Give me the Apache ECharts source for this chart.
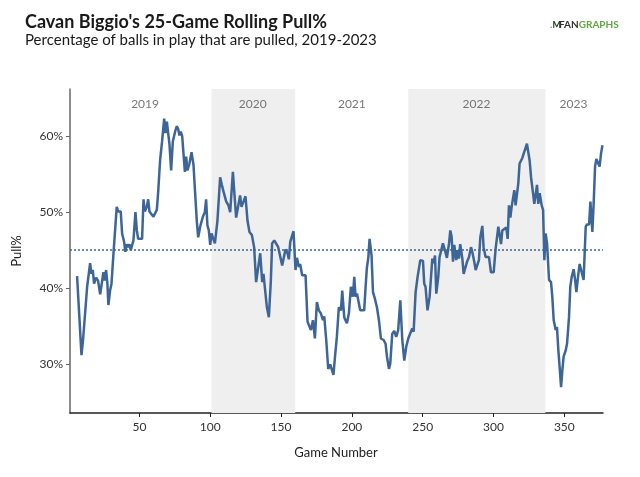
<!DOCTYPE html>
<html><head><meta charset="utf-8">
<script src="https://cdn.jsdelivr.net/npm/echarts@6/dist/echarts.min.js"></script>
<style>html,body{margin:0;padding:0;background:#fff}#c{width:640px;height:477px}</style>
</head><body><div id="c"></div>
<script>
// ---- data ----
const games = [6.0,9.1,10.2,11.4,13.1,13.8,15.2,16.1,17.1,18.0,19.4,20.8,22.3,23.2,24.6,25.5,26.5,27.4,28.1,29.3,30.3,31.7,32.6,34.0,35.0,36.8,37.8,39.2,40.1,41.1,42.0,43.0,43.9,44.9,45.8,47.2,48.2,49.1,50.5,51.9,52.9,53.8,55.2,56.2,57.1,58.5,59.9,61.3,62.3,63.2,64.6,66.0,67.5,68.4,69.4,70.3,71.2,72.4,73.6,74.5,75.5,76.4,77.3,78.3,79.2,80.2,81.1,82.1,83.0,83.9,85.3,86.8,88.2,89.1,90.5,91.5,92.9,93.8,94.8,96.2,97.1,98.0,99.0,100.0,100.9,102.3,103.3,105.1,107.0,108.2,109.4,111.3,112.9,114.1,116.0,116.9,118.3,119.7,121.1,122.1,123.5,124.9,126.3,127.7,129.4,131.0,132.4,133.4,135.3,136.7,137.6,139.0,140.0,141.4,142.8,143.7,145.2,146.6,148.0,149.4,150.8,151.7,153.1,154.6,155.5,156.5,157.6,158.8,160.2,161.2,162.6,163.5,164.9,167.3,168.7,170.1,171.1,172.5,173.9,175.3,176.7,178.1,179.6,180.5,181.9,183.3,184.7,186.1,187.0,188.0,189.4,190.8,192.3,193.2,194.6,195.5,196.5,197.9,199.3,200.7,201.7,202.6,203.6,204.5,205.9,207.3,208.7,209.7,210.6,211.6,212.5,213.9,214.9,216.3,217.7,219.1,220.5,222.4,223.8,224.8,226.2,227.1,228.5,229.9,231.3,232.7,234.2,235.6,237.0,238.4,239.8,241.2,242.6,243.6,245.0,246.4,248.3,250.2,251.1,252.0,253.4,254.9,256.8,257.7,258.7,259.6,261.0,261.9,263.3,264.3,265.7,267.1,268.6,269.5,270.4,271.4,272.3,273.7,274.6,275.6,276.5,278.0,278.9,280.3,281.3,282.7,284.1,285.0,286.4,287.4,288.8,289.7,290.7,292.1,293.0,294.4,295.8,296.8,298.2,300.1,301.5,303.4,304.3,305.3,306.2,307.6,309.0,310.0,310.9,311.9,312.8,313.8,314.7,315.6,316.6,317.5,318.4,319.4,320.3,321.3,322.7,323.6,324.6,325.5,326.5,327.9,328.8,329.7,330.7,331.6,332.6,334.0,335.0,335.9,336.8,337.8,339.2,340.6,341.5,342.5,343.9,344.8,345.8,346.7,347.7,348.6,349.5,350.9,351.9,353.3,354.2,355.2,356.6,357.6,358.5,359.9,360.8,362.2,363.6,365.1,366.0,367.5,368.4,369.8,370.7,371.7,372.6,374.0,374.9,375.9,376.9];
const pullPct = [41.6,31.2,33.2,33.2,40.2,40.4,43.3,41.9,42.4,40.6,41.4,41.0,39.2,39.2,42.1,41.0,42.4,40.6,37.8,39.7,40.6,44.6,47.0,50.7,50.1,50.1,47.2,46.1,44.8,45.8,45.4,45.8,45.0,44.8,46.3,50.0,47.6,46.5,46.4,46.5,51.7,50.1,50.7,51.7,50.1,50.1,49.4,49.3,50.3,52.5,56.8,59.3,62.3,60.4,61.9,60.4,59.0,55.5,59.3,59.5,60.8,61.3,61.0,60.1,60.6,60.0,60.1,55.3,57.3,55.5,56.4,57.9,56.2,53.3,48.9,46.7,48.1,48.3,49.4,50.0,51.7,48.3,47.6,45.7,47.2,47.4,45.9,48.9,54.6,53.6,52.7,51.4,50.9,50.0,55.3,52.9,49.3,49.3,52.2,50.7,51.4,52.1,48.9,47.4,47.0,45.4,40.8,40.8,44.6,40.8,41.9,41.7,37.5,36.2,41.0,45.9,46.3,46.3,45.4,45.4,43.0,43.1,45.1,44.6,43.8,46.1,46.1,47.5,42.4,44.0,42.8,43.2,41.7,41.7,35.6,35.4,34.5,35.8,33.4,38.2,37.1,36.7,35.8,36.3,33.2,29.4,30.0,30.0,28.6,30.8,33.6,37.5,37.1,39.7,36.2,35.8,35.4,36.7,40.2,38.9,41.5,38.9,39.3,39.3,37.1,36.9,37.1,40.2,42.7,44.0,46.5,44.3,39.5,38.6,37.5,35.8,33.4,33.2,32.7,31.0,29.4,30.1,34.0,34.4,33.6,34.5,38.4,33.2,30.5,32.3,33.4,33.4,34.7,34.3,39.5,41.5,43.7,43.6,40.6,40.2,37.1,38.9,43.9,43.3,44.3,39.3,41.5,44.1,44.3,45.9,45.0,44.0,45.9,47.6,46.8,43.5,45.7,43.7,45.0,43.9,45.8,43.9,41.9,42.8,43.5,44.1,45.4,44.8,43.5,42.4,42.4,43.7,46.7,48.2,45.4,44.1,44.2,44.1,42.1,42.1,45.2,48.1,47.9,45.8,47.6,47.4,48.0,46.5,50.9,49.3,50.7,50.9,52.9,50.9,51.1,53.8,56.4,56.4,57.1,57.7,57.7,59.0,59.0,56.8,54.6,52.5,51.1,52.2,53.6,51.1,52.5,50.9,50.3,43.7,47.2,45.9,41.1,40.8,38.9,35.8,34.5,34.9,31.8,29.6,27.0,29.2,31.0,31.8,32.7,36.2,40.2,41.5,42.5,41.1,39.5,41.9,43.2,43.2,41.1,48.1,48.4,48.4,51.4,47.4,51.1,56.0,57.0,56.8,56.0,57.7,58.8];
const averagePull = 45;
const yearLabels = ['2019','2020','2021','2022','2023'];
const yearCenters = [54, 130, 200, 288, 356.5];
const yearLabelLevel = 64.2;
const shadedStart = [100.9, 239.8];
const shadedEnd = [160, 336.6];
const xTicks = [50,100,150,200,250,300,350];
const yTicks = [30,40,50,60];

const FONT = 'Lato, "Noto Sans", sans-serif';
const chart = echarts.init(document.getElementById('c'), null, {renderer:'canvas'});
const lineData = games.map((g,i)=>[g, pullPct[i]]);

chart.setOption({
  animation:false,
  backgroundColor:'#ffffff',
  textStyle:{fontFamily:FONT},
  grid:{left:70, right:37, top:89, bottom:64, containLabel:false},
  xAxis:{
    type:'value', min:1, max:377.3,
    axisLine:{show:true, onZero:false, lineStyle:{color:'#222', width:1.5}},
    axisTick:{show:true, length:4, customValues:xTicks, lineStyle:{color:'#222'}},
    axisLabel:{customValues:xTicks, color:'#333', fontSize:12, fontFamily:FONT, margin:8},
    splitLine:{show:false}
  },
  yAxis:{
    type:'value', min:23.6, max:66.2,
    axisLine:{show:true, onZero:false, lineStyle:{color:'#666', width:1.5}},
    axisTick:{show:true, length:4, customValues:yTicks, lineStyle:{color:'#666'}},
    axisLabel:{customValues:yTicks, color:'#333', fontSize:12, fontFamily:FONT, margin:7, formatter:v=>v+'%'},
    splitLine:{show:false}
  },
  graphic:[
    {type:'text', left:25, top:13, style:{text:"Cavan Biggio's 25-Game Rolling Pull%", font:'bold 18px '+FONT, fill:'#1a1a1a'}},
    {type:'text', left:25, top:33, style:{text:'Percentage of balls in play that are pulled, 2019-2023', font:'15px '+FONT, fill:'#1a1a1a'}},
    {type:'text', left:559, top:20, style:{rich:{a:{fill:'#333',font:'bold 10px '+FONT},b:{fill:'#5fa641',font:'bold 10px '+FONT}}, text:'{a|FAN}{b|GRAPHS}'}},
    {type:'text', left:550, top:20, style:{rich:{g:{fill:'#5fa641',font:'bold 10px '+FONT},d:{fill:'#2d3b2a',font:'bold 9px '+FONT}}, text:'{g|.}{d|M}'}},
    {type:'text', x:17, y:251, rotation:Math.PI/2, style:{text:'Pull%', font:'13px '+FONT, fill:'#222', align:'center', verticalAlign:'middle'}},
    {type:'text', x:336, y:453, style:{text:'Game Number', font:'13px '+FONT, fill:'#222', align:'center', verticalAlign:'middle'}}
  ],
  series:[
    {
      type:'line', data:[], z:1, silent:true,
      markArea:{silent:true, itemStyle:{color:'#efefef'},
        data: shadedStart.map((s,i)=>[{xAxis:s},{xAxis:shadedEnd[i]}])}
    },
    {
      type:'line', data:lineData, z:3, showSymbol:false, symbol:'none', smooth:false,
      lineStyle:{color:'#3d6597', width:2.5}, silent:true,
      markLine:{silent:true, symbol:'none', label:{show:false},
        lineStyle:{color:'#3d6597', type:[2,2], width:1.5},
        data:[{yAxis:averagePull}]}
    },
    {
      type:'scatter', symbolSize:0, silent:true, z:4,
      data: yearCenters.map((c,i)=>({value:[c, yearLabelLevel], name:yearLabels[i]})),
      label:{show:true, position:'inside', formatter:p=>p.name, color:'#555', fontSize:12, fontFamily:FONT}
    }
  ]
});
</script></body></html>
